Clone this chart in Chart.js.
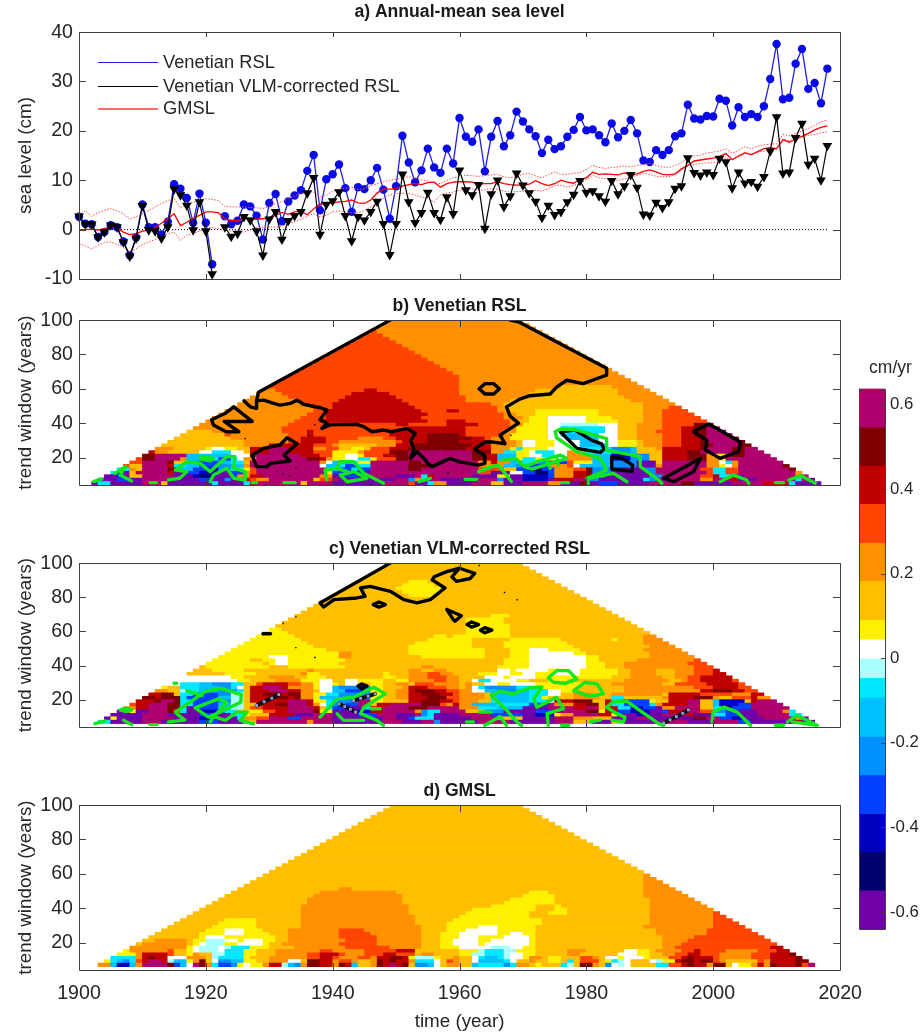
<!DOCTYPE html>
<html>
<head>
<meta charset="utf-8">
<script src="https://cdn.jsdelivr.net/npm/chart.js@4/dist/chart.umd.min.js"></script>
<style>
body { margin: 0; background: #fff; }
#page { position: relative; width: 922px; height: 1033px; overflow: hidden; font-family: "Liberation Sans", Arial, sans-serif; }
canvas { position: absolute; }
.leg { position: absolute; left: 163px; font-size: 18.3px; color: #262626; white-space: nowrap; line-height: 20px; }
.legline { position: absolute; left: 98px; width: 60px; height: 0; }
</style>
</head>
<body>
<div id="page">
  <canvas id="panelA" width="860" height="299" style="left:0;top:0"></canvas>
  <canvas id="panelB" width="860" height="217" style="left:0;top:288px"></canvas>
  <canvas id="panelC" width="860" height="216" style="left:0;top:531px"></canvas>
  <canvas id="panelD" width="874" height="260" style="left:0;top:773px"></canvas>
  <canvas id="colorbar" width="77" height="590" style="left:845px;top:355px"></canvas>
  <div id="legend"></div>
</div>
<script>
// a) annual means, 1900-2018 (cm), 1922 missing in the two Venetian series
const venetianRSL = [2.6,1.2,1.1,-1.5,-.5,.9,.5,-2.4,-5.2,-1.6,
  5.1,.5,.5,-1,1.6,9.2,8.3,6.4,1.4,7.3,
  1.4,-7,null,2.7,1.1,1.8,5.1,4.7,2.8,-2,
  5.4,7.2,1.7,5.7,6.9,8,11.9,15.1,3.9,10.2,
  11.2,13.2,8.4,3.6,8.6,8.2,10,12.5,8.1,2.2,
  8.8,19,13.6,9.6,12,16.4,12.6,11.5,16.4,13.4,
  22.6,18.8,17.8,20.3,11.8,18.8,22,16.9,19.1,23.9,
  21.9,20.3,18.9,15.5,18.2,16.3,16.9,18.8,20.2,22.8,
  20.1,20.3,19.1,17.7,21.5,18.7,20,22.2,19.5,14,
  13.7,16.1,15.1,16.1,18.9,19.5,25.3,22.5,22.3,23,
  22.9,26.5,26.1,21.1,24.8,22.8,23.4,22.8,25,30.5,
  37.6,26.4,26.7,33.6,36.6,28.5,29.7,25.6,32.6];
const venetianVLM = [2.7,1.1,1.1,-1.5,-.5,.9,.5,-2.5,-5.4,-1.8,
  4.8,-.1,-.3,-1.8,.5,8.2,7,4.9,-.1,5.6,
  -.3,-9,null,.5,-1.4,-.8,2.6,1.9,-.3,-5.2,
  2.1,3.6,-2,1.8,2.8,3.6,7.4,10.5,-1,5.1,
  5.8,7.6,2.8,-2.3,2.6,1.9,3.6,5.7,1.2,-5.1,
  1.2,11.2,5.6,1.4,3.4,7.5,3.4,2,6.6,3.2,
  12,8,7,9.1,.2,7.2,10,4.6,6.8,11.4,
  9,7.4,5.7,2.4,4.9,3,3.6,5.6,7.1,9.9,
  7.5,7.8,6.8,5.7,9.9,7.2,8.8,11.1,8.5,3.1,
  2.9,5.5,4.4,5.6,8.3,8.8,14.5,11.5,11,11.6,
  11.1,14.4,13.7,8.4,11.6,9.4,9.7,8.7,10.7,15.9,
  22.8,11.4,11.6,18.6,21.5,13.2,14.4,10,17];
const gmsl = [0,0,.1,-.1,.2,.5,.4,-.5,-1,-.8,
  -.3,-.1,.4,1.3,2.2,3.2,.8,1.5,2.3,2.9,
  3.6,3.6,3.4,2.1,1.9,1.7,2.4,2.3,2.1,2.2,
  2.5,2.9,3.5,3.1,3.6,3.7,3,4.2,5.2,5.2,
  5.4,5.6,5.7,6,5.4,5.3,6,7.4,8.2,8.2,
  8.3,8.8,9.1,9.3,9.1,9.5,9.6,8.6,9.3,9.6,
  9.7,9.7,9.6,9.2,9.3,9.3,9.7,9.3,9.1,9,
  9,9.2,9.9,9.3,8.9,9.3,10,9.6,9.4,10.2,
  10.5,11.6,11.2,11.3,11.2,11.1,11.5,11.1,11.3,11.8,
  12.1,11.7,11.2,11.1,11.3,12.3,13,13.9,14.1,14.3,
  14.5,14.8,15.4,14.2,14.9,15.6,15.2,15.8,16.4,16.6,
  16.4,18.2,17.7,18.3,18.9,19.5,20.2,20.7,21];
const gmslUpper = [2.9,3.8,2.7,3.4,3.9,4.3,3.8,3.2,2.1,2.6,
  3.2,3.9,4.6,5.3,5.9,6.3,4.3,5.3,5.5,5.9,
  6.3,6.1,5.9,4.7,4.6,4.6,4.6,4.5,4.4,4.3,
  4.6,5.3,5.6,6.3,6.8,7.3,7.8,7.6,6.6,7,
  7.8,8.2,8.4,8.6,8.1,8.3,8.9,9.3,9.7,10,
  10.2,10.5,10.7,10.5,10.1,9.9,9.5,9.3,10,10.5,
  10.7,11,10.9,10.8,10.9,11.1,11.2,10.7,10.5,10.8,
  11.2,11.4,10.9,10.5,11.1,11.7,11.2,11.2,11.4,11.5,
  12.2,13,12.6,12.4,12.6,12.7,12.9,12.7,13,13.2,
  13.4,13,12.7,12.6,13,13.5,14.6,14.9,15.1,15.5,
  15.7,15.9,16.4,15.5,16.1,16.8,16.4,16.9,17.2,17.3,
  17.4,19.3,19,19.5,20,20.5,21.1,21.8,22.2];
const gmslLower = [-2.8,-3.3,-3.9,-3.2,-2.6,-2.5,-3,-3.6,-4.5,-3.9,
  -3,-2.5,-2,-1.5,-.9,-.5,-2.2,-1.1,-.8,-.3,
  .2,.4,.2,-.1,-.3,-.5,-.5,-.1,.4,.5,
  .5,.5,.7,1.2,1.6,2.1,2.7,3.2,2.6,2.9,
  3.6,3.8,3.6,3.4,3.4,3.9,4.6,5.4,6.3,7,
  7.3,7.4,7.3,7,6.6,6.3,5.6,7,7.4,7.6,
  8,8.3,8.2,8,8,8.3,8.2,7.8,7.6,7.7,
  7.8,7.8,8,7.8,8.3,8.9,9,8.6,9,9.3,
  10.1,11,10.5,10.3,10.2,10,10.3,10.7,11,11.4,
  11.2,10.8,10.7,10.7,11.2,12,12.9,13.2,13.4,13.5,
  13.6,13.7,14.6,14.1,14.7,15.4,15.1,15.7,15.9,16.1,
  16.3,18.3,18,18.4,18.8,19.1,19.3,19.6,19.8];
const zeroYears = [1900, 2018];

const timeTicks = [1900, 1920, 1940, 1960, 1980, 2000, 2020];
const levelTicks = [-10, 0, 10, 20, 30, 40];
const windowTicks = [20, 40, 60, 80, 100];
const barTicks = [0.6, 0.4, 0.2, 0, -0.2, -0.4, -0.6];
const legendLabels = ['Venetian RSL', 'Venetian VLM-corrected RSL', 'GMSL'];

// colour classes of the trend maps, top of the colour bar first
const levelCodes = 'mdreoaywlcszbnkp';
const levelColors = ['#b0006e','#7f0000','#bf0000','#ff4500','#ff9000','#ffbf00','#fff000','#ffffff',
  '#aaffff','#00e8ff','#00c0ff','#0090ff','#0040ff','#0000bf','#00006f','#7000a8'];
const levelEdges = [.637,.546,.455,.365,.273,.183,.091,.045,0,-.046,-.092,-.185,-.276,-.367,-.458,-.549,-.64];

// trend maps: one string per window, 98 years at the top to 4 years at the bottom.
// "o47" = colour class o from 1947 onwards in that row.
const rslRows = [
'o0','o0','o0','e0 o47','e0 o48','e0 o49','e0 o50','e0 o51','e0 o52','e0 o53','e0 o54','e0 o55','e0 o56','e0 o57','e0 o58','e0 o59','e0 o60',
'e0 o60','e0 o60','e0 o60 a76 o84',
'o0 e31 r45 e47 o60 a72 o85',
'o0 e32 r43 e49 o60 a71 o85',
'o0 e33 r42 e50 o61 a70 o86',
'o0 e34 r41 e51 o61 a68 o87',
'o0 e35 r40 e52 o65 a67 o89',
'o0 e37 r40 e53 o66 a67 o89 e93',
'o0 e37 r39 e54 r58 e60 o66 a68 y72 a82 o89 e92',
'o0 e36 r39 e55 o67 a69 y72 a82 o89 e92',
'o0 e35 r39 e54 o67 a70 y71 w74 y80 a84 o89 e92',
'o0 e34 r38 e55 r58 e61 o68 a69 y71 w74 y80 a85 o89 e92',
'o0 e33 r50 e52 r58 e63 o68 y70 w74 l76 w82 a85 o88 e92 d97',
'o0 e32 r52 e61 o68 y69 w74 c76 w83 a85 o88 e92 r95 d97 m99',
'a0 o21 e32 r36 e37 r50 e61 o67 y69 w74 c76 w83 a85 o88 e91 r95 d97 m99',
'a0 e23 o24 e33 r36 e37 r49 d55 r60 e61 o67 y68 w74 s76 w82 a85 o88 e92 r95 d97 m99',
'a0 o24 e33 r35 e39 o44 e48 r50 d55 r62 e64 o65 y68 w74 s77 w82 a85 o88 e92 r95 d98 m99 d103',
'a0 o26 e33 r35 e39 o41 e50 r51 d55 r60 e64 o65 a69 w70 y72 w75 s79 w82 y85 a88 o89 e92 r95 d98 m99 d104',
'a0 o26 r30 e37 o40 a41 o47 r50 d53 r62 o65 a69 w70 y72 w75 s79 w83 y85 a88 o89 e92 r95 d98 m100 d104 r106',
'e0 o11 a15 y20 w21 y23 a25 r27 m30 r33 o37 e39 a41 y43 a45 e46 r49 d52 r61 o65 y68 c69 y70 w74 c78 z84 s87 a88 o91 r92 d98 m99 d103 m105 d108',
'r0 o12 a14 w19 c21 w24 a26 r27 m30 r33 e37 y40 o44 e45 d49 m52 d62 o65 c67 y69 w71 c72 w75 o77 c80 z84 s87 a88 r92 d96 m98 d103 m105 d108',
'r0 d9 m12 s17 w24 r27 m28 r35 e38 y40 w42 y44 e45 r48 d50 m52 d62 r64 s66 y69 w71 c73 w75 o77 s81 n84 z87 a90 r92 d96 o99 y100 m102 d103 m105',
'e0 d10 m12 o16 s17 c20 b22 c24 w25 o26 m28 d36 r38 o39 y40 w42 c44 y46 e47 d50 m52 d62 r64 s66 y69 c70 y72 w75 o77 s81 n84 z87 a90 r92 d96 o99 y101 m102',
'e0 m10 d14 a15 s17 b19 s22 c24 a26 m27 o38 w39 s40 c43 y44 m46 d52 m54 o63 r65 o66 s68 c70 z72 b74 e77 y78 s81 z84 p88 a91 m92 o99 w101 c102 o103 m104 d111',
'e0 a8 m10 r14 c15 s17 b19 z22 s24 o26 m27 w38 s39 c41 b42 c44 m46 d52 m56 o63 s67 z69 b71 o74 e77 w78 s79 z84 p88 o91 m92 o99 y101 w102 o103 m104 d111',
'c0 o8 a9 m10 d14 s16 b18 n20 z22 c24 y26 e27 m28 o39 s40 b41 c43 b44 m46 d52 m54 e63 a67 b69 k71 b73 o75 e78 d80 z81 p85 z89 m91 e98 c100 e102 m104 d112',
'c0 p6 a8 m9 r14 p15 b17 n19 p22 b24 o26 e27 m28 y39 b40 n42 b44 p45 m46 e63 p65 w68 b70 k72 b74 o75 r78 d80 z81 p84 z90 m91 e99 c100 e102 m104 o113',
'p0 b6 p7 a8 m10 p15 n18 k19 p21 b24 o25 r27 m29 o38 p40 b42 p44 m46 p50 m53 c54 r55 m56 p62 y66 p68 n70 b74 o75 r78 d80 z81 p83 z90 m92 e98 r100 c101 p103 m105 o113 m114',
'p0 b6 p8 m10 p15 b19 p21 z23 p24 r26 e27 o28 m30 a37 e38 m40 p41 b44 p45 m50 z52 o53 c54 m55 p57 m63 z66 p67 n70 p74 r75 m78 z80 p82 c89 z90 p91 m93 o98 m100 r103 p104 m107 c113 m114 p115',
'p0 c3 p5 m10 a13 p14 c21 p22 c26 r27 m28 a35 m36 p40 m48 e52 p53 c55 o56 p58 m62 a65 p67 m70 o74 p76 d79 p80 b82 p85 m90 d95 p97 m103 r108 c112 p113'
];
const vlmRows = [
'a0','a0','a0','a0','a0',
'a0 y52 a55','a0 y51 a56','a0 y50 a57','a0 y51 a57','a0 y52 a56',
'a0','a0','a0','a0','a0','a0 y65 a68','a0 y61 a67','a0 y61 a67','a0 y61 a68',
'y0 a32 y61 a68',
'y0 a33 y61 a68',
'y0 a34 y56 a58 y59 a68 o89',
'y0 a35 y55 a62 y68 a76 y84 a85 o89',
'y0 a36 y53 a62 y67 a77 o89',
'y0 a37 y52 a62 y67 a78 o90',
'y0 a39 y52 a64 y68 w71 y74 a79 o89',
'y0 o41 a43 y52 a64 y68 w71 y78 a80 o90',
'y0 w30 y33 o41 a43 y54 a64 y68 w71 y80 a82 o90',
'y0 a27 y29 w31 y33 a42 y67 w71 y80 a82 o88 e97',
'y0 a29 y30 w31 y33 a41 y67 w71 y80 a83 o86 e96 r100',
'a0 y20 a30 y33 a42 o54 a56 y66 w71 y80 a83 o86 e97',
'a0 y21 a26 o36 a37 o52 a54 o56 a58 w66 y68 w69 y74 w77 y79 a85 o87 a91 o94 e97 r100',
'a0 y23 a28 o35 y36 a38 y48 a49 o52 e55 o57 a59 y63 w66 y68 w70 y72 w75 y79 a85 o87 a91 o94 e97 r100 e103',
'w0 y24 a26 o30 a34 y36 a39 y48 a50 o52 e55 o58 a60 w64 y67 w68 y72 a84 o87 a92 o94 e96 r98 e103',
'w0 y25 a27 o31 y35 w38 a40 w42 y44 a48 y50 o52 e56 o58 a60 w62 c63 w65 y69 a71 y74 a77 o86 a93 o95 e96 r98 e103 o104',
'w0 c16 s19 z21 c24 a26 e28 r29 e33 o35 y37 w38 y40 a41 w42 a44 y46 a48 o50 a52 e53 o56 a60 o61 a62 w64 y66 w68 y72 a80 o84 a92 e94 r99 e104',
'y0 a14 c16 s19 z22 c24 w25 a26 r27 m29 r32 o33 y37 w38 s40 z41 y46 a48 o51 r52 e55 o58 a60 o61 w62 c63 z64 c69 y73 a79 o86 e97 r100 e104 o107',
'e0 o12 a14 l16 c17 s19 z22 c25 a26 r27 m30 r33 o35 a37 w38 s40 b42 z45 y46 a48 o50 r52 d53 r56 e58 o60 w62 s64 z66 s69 c71 w74 y76 a78 o86 r98 d100 r103 e105 o107',
'r0 d13 a15 c16 b18 z22 l24 a26 r27 d29 r32 d33 o35 y37 c39 z41 y46 a48 o50 r52 d54 r57 e59 o60 a64 s65 c71 w74 a76 o78 a81 o84 a92 r93 e98 o103 r106',
'd0 r12 d13 c16 b17 s22 l24 a26 r27 d30 r33 d34 o35 y37 s38 z41 y46 a48 o50 r52 d55 e58 o60 a64 s65 c71 y73 a74 o78 a82 c84 a86 o92 r93 d97 o100 a101 e103 r106 o107',
'r0 d12 m13 d15 c16 b18 z22 l24 a26 r27 m33 r36 y37 c39 s40 z41 m44 y46 a48 r52 d54 r57 e59 o60 a63 c65 s66 c71 l74 r75 d78 a81 r83 c84 z85 b86 y90 a91 r93 m96 a98 s100 n101 a105 r106 m107',
'y0 e8 r9 m11 d14 c16 b18 s22 l24 a26 r28 d31 m33 r36 o37 w38 c39 z40 b42 m44 a46 r47 m49 d54 e57 o58 r59 o60 s62 c66 b71 m74 o75 r78 d80 a82 r83 c84 b86 c90 o91 r92 m96 a98 s100 n101 b104 m106 r112',
'c0 o7 r9 m11 d14 c16 p17 b19 s22 l24 a26 e27 r29 m33 r37 a38 c39 b40 p43 c45 r46 m48 d52 m55 o60 c63 s66 p70 m74 r78 m80 a82 r83 c85 n87 b89 p91 o92 m94 a98 c100 k102 b103 m106 d112',
'c0 p5 y8 p9 m11 d14 e15 c16 p17 n19 b22 c23 a25 y27 e29 r31 m33 d37 y38 p40 n44 r46 m48 o53 z54 c55 m57 a61 z64 p67 b72 m75 d80 y82 r83 b85 n87 p90 b92 r93 m96 e98 z100 b102 p104 m107 o111 c112 a114',
'p0 m10 p14 b19 p21 c24 y26 a27 r30 p34 m37 p40 b44 m47 p50 m53 z54 c55 p56 m60 b65 p70 n72 y75 o76 m78 r82 y84 p85 n88 p90 m92 r96 p97 c100 b102 p104 m107 c112',
'p0 y5 p6 m10 p15 n19 p21 c25 o26 e28 m30 b33 m35 p40 m48 p50 b52 c53 p56 m62 a66 p70 m75 o78 a81 p84 m88 p90 d97 m99 b101 n103 p105 m108 o113 p114',
'p0 c3 p5 m10 p13 b19 p22 a26 m28 o36 m37 p40 m48 p51 m54 z56 p57 m63 p68 m75 a78 p81 a84 p86 m92 p96 m100 b104 p106 r113 p114'
];
const gmslRows = [
'a0','a0','a0','a0','a0','a0','a0','a0','a0','a0','a0','a0','a0','a0','a0','a0','a0','a0','a0',
'a0 o89','a0 o89','a0 o89','a0 o89','a0 o89',
'a0 o41 a43 o89',
'a0 o38 a50 y71 a74 o89',
'a0 o37 a51 y70 a75 o89',
'a0 o36 a51 y68 a75 o90',
'a0 o36 a51 y67 a75 o90',
'a0 o35 a52 y65 a72 y75 a76 o90',
'a0 o35 a52 y62 a72 y75 a77 o90',
'a0 o35 a52 y61 a71 y74 a77 o90 e100',
'a0 o35 a53 y60 a71 o90 e100',
'a0 y23 a28 o35 a53 y59 a73 o90 e100',
'a0 y22 a28 o35 a53 y58 a73 o90 e100',
'a0 y21 a28 o35 a54 y58 w63 y66 a72 o89 e100',
'a0 y20 w23 y26 a29 o33 e41 o45 a54 y58 w61 y66 a72 o91 e99',
'a0 y19 w23 y26 a30 o33 e41 o46 a54 y57 w60 y66 w68 y70 a72 o91 e99',
'a0 y19 w20 y23 a31 o33 e41 o47 a54 y57 w60 y63 w67 y71 a72 o92 e97',
'a0 o12 a17 y18 l20 w23 y25 w26 y29 a31 o33 e42 o47 a54 y57 w59 y63 w65 y71 a72 o92 e96',
'a0 o10 a17 y18 w19 l20 y23 w25 y29 a30 o32 e41 o47 a54 y57 w59 y63 w64 y71 a72 o92 e95',
'a0 o8 y17 w18 l19 w22 l23 c24 y27 a30 o34 e42 o49 a54 y57 w60 l65 w68 y70 a72 o92 e94 r109 e112',
'a0 y7 o8 e14 a15 y17 w18 l19 w22 c23 y26 a28 o31 e38 o40 e45 r50 a53 y60 l63 c64 l67 y69 a72 o77 a80 w86 y88 a90 o91 e95 r97 e98 o102 e107 r110',
'y0 o9 r10 e14 a15 y17 o18 a19 l21 c23 y26 a28 o31 e36 r38 e41 o42 e45 r48 e50 a53 o54 a56 y60 l62 c64 l67 w68 y70 a72 o77 a79 w85 y88 a90 o92 e94 r96 e98 o101 e106 r109 d112',
'y0 c5 o9 r10 d11 r12 w14 o17 a20 l21 c22 y26 a27 o30 e36 r38 e40 o41 e44 o46 r47 d49 r51 y52 l53 y56 a57 o59 a60 w62 c63 s64 c66 l67 w68 y70 o71 a73 y74 a76 e79 o81 a82 w83 y85 w86 y89 a90 e93 r95 d96 r97 e100 o101 e106 r109 d113',
'y3 c5 s6 z7 c8 e9 r10 m11 r13 l14 s15 y17 o18 d19 a20 w21 z22 s24 y26 a28 o30 w33 a35 d36 r38 o40 e41 o43 a44 o46 d47 r48 d49 r50 o52 c53 w56 a57 e58 o59 a60 w62 s63 c67 w68 a69 o71 a72 y74 a76 c77 a78 e79 a82 y83 c84 l85 w86 a87 w90 l91 y92 r94 d95 r97 d98 e100 o101 a102 e107 o108 r109 d113 m115',
'y2 o3 s5 n6 s8 o9 m10 d14 b15 s16 w17 m18 d19 o20 c21 b22 z24 y25 w26 y27 o29 r30 l32 s33 z34 o35 d36 r38 o40 d41 r42 s43 a44 o46 d47 r48 m49 r50 d51 a52 z53 s55 w56 a57 o58 a60 s62 c63 z67 c68 o69 a71 y72 a73 c76 l77 a78 d79 o81 a82 z83 w84 l85 w86 a87 c91 e93 r95 d96 r97 o99 d100 a102 w103 y104 o106 r107 o108 d109 r110 d113 e114 m115'
];

// contour lines, [year after 1900, window]
const rslBlack = [
 [[49.1,100],[28.3,58],[28,53],[29.1,53.4],[30.7,51.5],[31.7,50.5],[33.3,51.5],[34.4,53.4],[35.4,51],[38,49],[39.1,47.6],[38,42],[39.1,40],[38.3,37],[39.6,39],[43.8,39.3],[44.9,38],[46.2,35],[48,36],[49.3,35],[51.7,37],[53,34],[52.3,30],[52.8,25],[52.3,19.5],[53.3,23.4],[54.4,19.5],[55,16.6],[55.7,14.7],[58.5,19.5],[60,17.5],[63,15.6],[64,16.6],[64,21],[62.4,25],[64,29],[65.3,29],[67.2,28],[66.4,33],[69.3,40],[68,44],[67.4,49.5],[69.5,54],[71.1,56],[74.3,57],[75.3,61],[76.9,65],[79.5,63],[81.7,66],[83.2,68],[83.2,72],[69.3,99],[68,100]],
 [[28,53],[28,48.6],[27,49.5],[26,53]],
 [[20.9,42],[21.2,39],[23.2,35],[25.2,35],[22.9,41],[27.3,41],[24.4,49.5],[23,45.6],[20.9,42]],
 [[27.3,21.4],[29.1,25.3],[31.7,27.3],[32.8,31.5],[34.4,28],[32.3,21.4],[33.3,18],[30.2,16.6],[29.6,14.7],[28,14.7],[27.3,21.4]],
 [[63.1,60],[64,63],[65.4,63],[66.3,60],[65.4,57],[64,57],[63.1,60]],
 [[75.9,35],[78.5,25.3],[82.2,23],[82.8,25],[82.4,28],[80.9,30],[78.2,36],[75.9,35]],
 [[84,20.5],[85.6,19.5],[87.3,15.6],[87.2,12],[84,13.3],[84,20.5]],
 [[92.2,8],[98,19.5],[96.9,11.8],[93.8,6],[92.2,8]],
 [[96.9,35],[99.3,39.5],[104.3,29],[104,23.4],[101.1,19.5],[98.8,24.4],[99,30],[96.9,35]]
];
const rslGreen = [
 [[14.1,7],[15.9,7.9],[17,11.8],[15.2,12.7],[17,17.6],[19.1,16.6],[20.7,11.8],[23.3,20.5],[24.6,20.5],[24.4,13.7],[26.2,11.8],[26.2,6.9],[24.4,7.9],[23.3,13.7],[21.2,9.8],[20.7,5.9]],
 [[19.1,20.5],[21.2,19.5],[20.7,18],[19.4,19],[19.1,20.5]],
 [[5.7,10.8],[7.3,14.7],[6.5,9.8],[8.3,6.3]],
 [[2.3,6],[3.6,7.5]],
 [[39.1,6.9],[38.8,12.7],[40.7,13.7],[41.2,17.6],[43.3,17.6],[44.9,10.8],[48,5]],
 [[41.2,9.8],[43.3,11.8],[45.4,7.9],[42.3,5.9],[41.2,9.8]],
 [[40.7,13.7],[42.3,11.8]],
 [[11.2,5.4],[12.2,5.4]],[[27.3,5.4],[28,5.4]],[[32.3,5.4],[34.1,5.4]],[[53.6,6],[55.4,7.9]],
 [[60.9,7.3],[62.7,7.3]],
 [[63,11.8],[65.1,14.7],[66.1,15.6],[67.4,9.8],[68.2,5.9]],
 [[66.7,18.5],[68.8,19.5],[70.3,14.7],[71.4,13.3],[76.9,19.5],[75.9,21.4],[72.2,17.6],[70.3,14.7]],
 [[73.8,18.5],[74.3,13.7]],[[75.3,20.5],[75.6,15.6]],
 [[75.1,35],[75.9,36.6],[78.5,36],[83.2,31],[83.2,24.3],[88.5,20.5],[88.5,14.7],[91.4,6.9],[91.9,5]],
 [[75.1,35],[75.3,31.5],[78.5,23.4],[82.2,19.5],[83.2,12.7],[80.1,7.9],[80.3,5]],
 [[80.3,7.9],[84.3,10.8],[86.4,5.9]],
 [[101.1,5.9],[103.2,9.8],[105.3,6.9],[105.6,5]],
 [[111.9,6.9],[113.8,9.4],[116.1,5]],
 [[109.8,5.4],[111.1,5.4]],[[76.1,5.4],[77.2,5.4]]
];
const rslDots = [[37.2,39],[36.2,33],[26.2,31],[31.2,12],[32.2,10.5],[34.2,14],[33.2,9],[58.2,11],[68.1,33]];
const vlmBlack = [
 [[49.1,100],[38,76.7],[38.6,74.3],[40.2,78.6],[43.8,79.6],[45.1,80.5],[44.4,85.4],[45.9,86.4],[49.1,83.5],[51.2,78.6],[53.3,76.7],[55.4,78.6],[57.7,85.4],[55.7,90.2],[56,92],[58,95],[60,97],[62.4,94],[61.7,91],[59.5,89.3],[58.8,92],[60,97]],
 [[46.4,75.7],[47.3,77.2],[48.3,75.7],[47.3,74.2],[46.4,75.7]],
 [[58,72.8],[60.3,69.2],[59.3,66],[59,67],[58,72.8]],
 [[61.2,64],[61.9,65.5],[63,64],[61.9,62.5],[61.2,64]],
 [[63.3,60.7],[64,62.2],[65.1,60.7],[64,59.2],[63.3,60.7]],
 [[29,58.6],[30.2,58.6]],
 [[44,28],[44.6,29.2],[45.4,28],[44.6,26.4],[44,28]]
];
const vlmGreen = [
 [[15.2,12.7],[19.9,24.7],[22.3,26.7],[25.6,23],[25.5,18.5],[21.7,11.8],[20.4,9.8],[18.3,15.2],[22,20.5],[23.3,18.5],[21.7,11.8]],
 [[17,25.3],[19.4,22.4]],
 [[14.1,7],[16.7,8],[15.4,11.8]],
 [[20.7,7],[21.2,10.2],[23.1,7.9],[24.9,12.7],[26.5,12.7],[25.4,7.9],[27.5,5.9]],
 [[6.5,14],[7.4,15],[8.3,14],[7.4,13],[6.5,14]],
 [[7,8],[8.3,5.4]],[[2.5,6],[4.1,7.5]],[[11.2,5.4],[12.3,5.4]],
 [[15,29.6],[15.4,29.6]],
 [[38,9.8],[40.7,20.5],[43.3,21.4],[46.5,27.3],[48.3,23.4],[44.9,15.6],[44.4,11.8],[47,7.9],[48,5]],
 [[40.7,11.8],[41.7,7.9],[44.9,7.9]],
 [[46,14.7],[47.5,14.7]],
 [[74,32.7],[75.3,37],[77.2,37],[78.5,32],[76.7,29.6],[74.8,30.2],[74,32.7]],
 [[78,25.3],[79.8,30.2],[81.7,29.2],[82.7,23.4],[80.6,22],[78,25.3]],
 [[65,22.4],[66.4,25],[68.5,23.4],[71.1,26.9],[73,27.3],[71.7,20.5],[72.2,15.6],[75.3,21.4],[76.4,14.7],[73.8,11.8],[74,5]],
 [[65,22.4],[67.2,14.7],[68.8,7.9],[69.8,5]],
 [[64,5],[66.4,10.2],[67.4,5]],
 [[63.2,12.7],[65,12.7]],[[61.1,7],[62.2,7]],
 [[83.2,15.6],[84.3,19],[86.4,19],[91.4,6],[92.2,5]],
 [[83.2,15.6],[84.8,11.8],[86.1,9.8],[85.9,7],[84,8]],
 [[80.6,7],[82.2,8]],[[76.1,5],[77.2,5]],
 [[99.8,7],[100,12.7],[101.7,15.6],[103.8,12.7],[105.9,5]],
 [[111.7,7],[113.2,10.8],[116.4,5],[112.5,7]],
 [[109.8,5],[111.1,5]]
];
const vlmHatch = [
 [[28,16.6],[29.2,18.8],[30.4,20.9],[31.5,23]],
 [[41,17.6],[41.9,16],[42.8,14.4],[43.6,12.7]],
 [[43.3,19.5],[44.4,20.8],[45.6,22.1],[46.7,23.4]],
 [[92.2,6.3],[93.2,8.2],[94.2,10.1],[95.2,12],[96.1,14]]
];
const vlmDots = [[34.2,68.5],[32.2,64.6],[34.2,50.5],[37.2,44.7],[67.1,82.8],[69.1,78.5],[63.1,98.6]];

// one bar per map cell, row r spans 1902+r up to 2017-r
function rowsToCells(rows) {
  const cells = [], colors = [];
  rows.forEach((row, i) => {
    const tokens = row.split(' ').map(t => [t[0], +t.slice(1)]);
    const win = 98 - 2 * i, r = (win - 4) / 2;
    for (let year = 1902 + r; year < 2017 - r; year++) {
      let code = tokens[0][0];
      tokens.forEach(t => { if (t[1] <= year - 1900) code = t[0]; });
      cells.push({ x: year + 0.5, y: [win, win + 2] });
      colors.push(levelColors[levelCodes.indexOf(code)]);
    }
  });
  return { cells, colors };
}

function contour(line, color, width) {
  return {
    type: 'line', order: 1, data: line.map(p => ({ x: 1900 + p[0], y: p[1] })),
    borderColor: color, borderWidth: width, pointRadius: 0, tension: 0, fill: false,
    borderJoinStyle: 'round', borderCapStyle: 'round'
  };
}

function dots(points) {
  return {
    type: 'line', order: 0, showLine: false, data: points.map(p => ({ x: 1900 + p[0], y: p[1] })),
    pointStyle: 'rect', pointRadius: 1, pointBackgroundColor: '#000', pointBorderWidth: 0
  };
}

// box round the axes and inward ticks on all four sides
const axisBox = {
  id: 'axisBox',
  afterDraw(chart, args, opts) {
    const { ctx, chartArea: a, scales } = chart;
    ctx.save();
    ctx.strokeStyle = '#404040';
    ctx.lineWidth = 1;
    ctx.beginPath();
    ctx.rect(Math.round(a.left) + .5, Math.round(a.top) + .5, Math.round(a.width), Math.round(a.height));
    if (scales.x && opts.xLen) scales.x.ticks.forEach(t => {
      const px = Math.round(scales.x.getPixelForValue(t.value)) + .5;
      ctx.moveTo(px, a.top); ctx.lineTo(px, a.top + opts.xLen);
      ctx.moveTo(px, a.bottom); ctx.lineTo(px, a.bottom - opts.xLen);
    });
    scales.y.ticks.forEach(t => {
      const py = Math.round(scales.y.getPixelForValue(t.value)) + .5;
      if (opts.yLeft) { ctx.moveTo(a.left, py); ctx.lineTo(a.left + opts.yLen, py); }
      ctx.moveTo(a.right, py); ctx.lineTo(a.right - opts.yLen, py);
    });
    ctx.stroke();
    ctx.restore();
  }
};

const tickFont = { family: '"Liberation Sans", Arial, sans-serif', size: 19.6 };
const labelFont = { family: '"Liberation Sans", Arial, sans-serif', size: 18.8 };
const textColor = '#262626';

function xAxis(showLabels, height) {
  return {
    type: 'linear', min: 1900, max: 2020, offset: false,
    grid: { display: false, drawTicks: false }, border: { display: false },
    afterBuildTicks(s) { s.ticks = timeTicks.map(v => ({ value: v })); },
    afterFit(s) { s.height = height; },
    ticks: { display: showLabels, autoSkip: false, maxRotation: 0, padding: 12, font: tickFont, color: textColor, callback: v => String(v) },
    title: { display: showLabels, text: 'time (year)', font: labelFont, color: textColor, padding: { top: 10, bottom: 0 } }
  };
}

function yAxis(min, max, values, label) {
  return {
    min, max,
    grid: { display: false, drawTicks: false }, border: { display: false },
    afterBuildTicks(s) { s.ticks = values.map(v => ({ value: v })); },
    afterFit(s) { s.width = 79; },
    ticks: { autoSkip: false, padding: 6, font: tickFont, color: textColor },
    title: { display: true, text: label, font: labelFont, color: textColor, padding: { top: 15, bottom: 0 } }
  };
}

function titleBlock(text, top, bottom) {
  return {
    display: true, text, fullSize: false, color: '#1a1a1a',
    font: { family: '"Liberation Sans", Arial, sans-serif', size: 17.6, weight: 'bold', lineHeight: 1.2 },
    padding: { top, bottom }
  };
}

function heatPanel(id, title, rows, black, green, hatch, dotPoints, bottomH, showX, rightPad) {
  const { cells, colors } = rowsToCells(rows);
  const datasets = [{
    type: 'bar', order: 5, data: cells, backgroundColor: colors, borderWidth: 0,
    barPercentage: 1, categoryPercentage: 1
  }];
  green.forEach(l => datasets.push(contour(l, '#12e61e', 3.4)));
  black.forEach(l => datasets.push(contour(l, '#000', 3.4)));
  hatch.forEach(l => {
    datasets.push(contour(l, '#111', 4));
    datasets.push({
      type: 'line', order: 0, showLine: false, data: l.map(p => ({ x: 1900 + p[0], y: p[1] })),
      pointStyle: 'rect', pointRadius: 2, pointBackgroundColor: '#9a9ae6', pointBorderWidth: 0
    });
  });
  if (dotPoints.length) datasets.push(dots(dotPoints));
  new Chart(document.getElementById(id), {
    type: 'bar',
    data: { datasets },
    options: {
      responsive: false, animation: false, parsing: { xAxisKey: 'x', yAxisKey: 'y' },
      layout: { padding: { right: rightPad } },
      scales: { x: xAxis(showX, bottomH), y: yAxis(4, 100, windowTicks, 'trend window (years)') },
      plugins: { legend: { display: false }, tooltip: { enabled: false }, title: titleBlock(title, 8, 3), axisBox: { xLen: 7, yLen: 7, yLeft: true } }
    },
    plugins: [axisBox]
  });
}

function xy(values) {
  return values.map((v, i) => ({ x: 1900 + i, y: v }));
}

new Chart(document.getElementById('panelA'), {
  type: 'line',
  data: {
    datasets: [
      { data: zeroYears.map(y => ({ x: y, y: 0 })), order: 5, borderColor: '#000', borderWidth: 1, borderDash: [1, 2], pointRadius: 0 },
      { data: xy(venetianRSL), order: 4, clip: false, borderColor: '#1f1fe6', borderWidth: 1.3, pointRadius: 4.2, pointBackgroundColor: '#0a0ae6', pointBorderWidth: 0, tension: 0 },
      { data: xy(gmslUpper), order: 3, borderColor: '#ff4a4a', borderWidth: 1, borderDash: [1.5, 1.5], pointRadius: 0, tension: 0 },
      { data: xy(gmslLower), order: 3, borderColor: '#ff4a4a', borderWidth: 1, borderDash: [1.5, 1.5], pointRadius: 0, tension: 0 },
      { data: xy(gmsl), order: 2, borderColor: '#ff0000', borderWidth: 1.3, pointRadius: 0, tension: 0 },
      { data: xy(venetianVLM), order: 1, clip: false, borderColor: '#000', borderWidth: 1.2, pointRadius: 5.6, pointStyle: 'triangle', rotation: 180, pointBackgroundColor: '#000', pointBorderWidth: 0, tension: 0 }
    ]
  },
  options: {
    responsive: false, animation: false,
    layout: { padding: { right: 20 } },
    scales: { x: xAxis(false, 20), y: yAxis(-10, 40, levelTicks, 'sea level (cm)') },
    plugins: { legend: { display: false }, tooltip: { enabled: false }, title: titleBlock('a) Annual-mean sea level', 2, 9), axisBox: { xLen: 5, yLen: 7, yLeft: true } }
  },
  plugins: [axisBox]
});

heatPanel('panelB', 'b) Venetian RSL', rslRows, rslBlack, rslGreen, [], rslDots, 20, false, 20);
heatPanel('panelC', 'c) Venetian VLM-corrected RSL', vlmRows, vlmBlack, vlmGreen, vlmHatch, vlmDots, 20, false, 20);
heatPanel('panelD', 'd) GMSL', gmslRows, [], [], [], [], 63, true, 0);

new Chart(document.getElementById('colorbar'), {
  type: 'bar',
  data: {
    labels: ['cm/yr'],
    datasets: levelColors.map((c, i) => ({ data: [[levelEdges[i + 1], levelEdges[i]]], backgroundColor: c, borderWidth: 0, barPercentage: 1, categoryPercentage: 1, grouped: false }))
  },
  options: {
    responsive: false, animation: false,
    layout: { padding: { left: 14, bottom: 16 } },
    scales: {
      x: { display: false },
      y: {
        position: 'right', min: -.64, max: .637,
        grid: { display: false, drawTicks: false }, border: { display: false },
        afterBuildTicks(s) { s.ticks = barTicks.map(v => ({ value: v })); },
        afterFit(s) { s.width = 37; },
        ticks: { autoSkip: false, padding: 5, font: { family: tickFont.family, size: 16.8 }, color: textColor, callback: v => String(v) }
      }
    },
    plugins: {
      legend: { display: false }, tooltip: { enabled: false },
      title: { display: true, text: 'cm/yr', color: textColor, font: { family: tickFont.family, size: 17.5, weight: 'normal', lineHeight: 1.2 }, padding: { top: 3, bottom: 9.6 } },
      axisBox: { xLen: 0, yLen: 4, yLeft: false }
    }
  },
  plugins: [axisBox]
});

// legend is lines only, without the markers
const legendColors = ['#1f1fe6', '#000', '#ff6a6a'];
const legendWidths = [1.2, 1.2, 2];
const legendTops = [62, 86, 108];
legendLabels.forEach((label, i) => {
  const line = document.createElement('div');
  line.className = 'legline';
  line.style.top = legendTops[i] + 'px';
  line.style.borderTop = legendWidths[i] + 'px solid ' + legendColors[i];
  const text = document.createElement('div');
  text.className = 'leg';
  text.style.top = (legendTops[i] - 10) + 'px';
  text.textContent = label;
  document.getElementById('legend').append(line, text);
});
</script>
</body>
</html>
